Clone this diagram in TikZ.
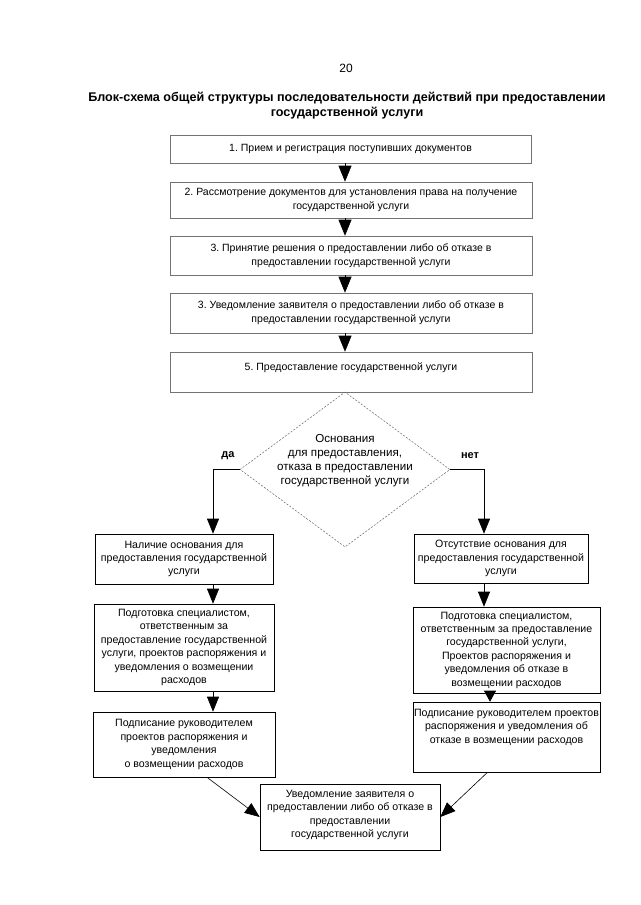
\documentclass[tikz,border=0pt]{standalone}
\usepackage{fontspec}
\setmainfont{Liberation Sans}
\usetikzlibrary{shapes.geometric,arrows.meta,calc}
\frenchspacing
\begin{document}
\begin{tikzpicture}[x=1pt,y=-1pt,
  font=\fontsize{10.5}{14}\selectfont,
  topbox/.style={draw=black!55, line width=0.6pt, align=center, inner sep=1pt},
  lowbox/.style={draw=black, line width=0.6pt, align=center, inner sep=0.5pt, font=\fontsize{10.6}{13.4}\selectfont},
  arr/.style={-{Triangle[length=15pt,width=12pt]}, line width=0.6pt},
  shortarr/.style={-{Triangle[length=11pt,width=12pt]}, line width=0.6pt},
  bigarr/.style={-{Triangle[length=16pt,width=13pt]}, line width=0.6pt},
  lbl/.style={font=\fontsize{11}{12}\selectfont\bfseries},
]
\path[use as bounding box, fill=white] (0,0) rectangle (640,905);

\node (pg) at (346,68) {\fontsize{12}{14}\selectfont 20};
\node[align=center, font=\fontsize{12.6}{15}\selectfont\bfseries] (title) at (347,106)
  {Блок-схема общей структуры последовательности действий при предоставлении\\государственной услуги};

\node[topbox, minimum width=361, minimum height=28] (b1) at (350.5,149)
  {1. Прием и регистрация поступивших документов};
\node[topbox, minimum width=362, minimum height=36] (b2) at (351,200)
  {2. Рассмотрение документов для установления права на получение\\государственной услуги};
\node[topbox, minimum width=362, minimum height=39] (b3) at (351,255.5)
  {3. Принятие решения о предоставлении либо об отказе в\\предоставлении государственной услуги};
\node[topbox, minimum width=362, minimum height=40] (b4) at (351,313)
  {3. Уведомление заявителя о предоставлении либо об отказе в\\предоставлении государственной услуги};
\node[topbox, minimum width=362, minimum height=40, text depth=10pt] (b5) at (351,372)
  {5. Предоставление государственной услуги};

\node[draw=black!60, dashed, dash pattern=on 2pt off 1.5pt, line width=0.5pt, shape=diamond,
  inner sep=0pt, minimum width=210, minimum height=155] (dia) at (345,469.5) {};
\node[align=center, font=\fontsize{11.6}{14}\selectfont] (diatext) at (345,461)
  {Основания\\для предоставления,\\отказа в предоставлении\\государственной услуги};

\node[lbl] (yes) at (228,456) {да};
\node[lbl] (no) at (470,456) {нет};

\node[lowbox, minimum width=178, minimum height=50] (a1) at (184,559)
  {Наличие основания для\\предоставления государственной\\услуги};
\node[lowbox, minimum width=180, minimum height=87] (a2) at (184,647.5)
  {Подготовка специалистом,\\ответственным за\\предоставление государственной\\услуги, проектов распоряжения и\\уведомления о возмещении\\расходов};
\node[lowbox, minimum width=182, minimum height=65] (a3) at (184,744.5)
  {Подписание руководителем\\проектов распоряжения и\\уведомления\\о возмещении расходов};

\node[lowbox, minimum width=174, minimum height=49] (c1) at (501,558.5)
  {Отсутствие основания для\\предоставления государственной\\услуги};
\node[lowbox, minimum width=187, minimum height=86] (c2) at (506.5,650)
  {Подготовка специалистом,\\ответственным за предоставление\\государственной услуги,\\Проектов распоряжения и\\уведомления об отказе в\\возмещении расходов};
\node[lowbox, minimum width=187, minimum height=70, text depth=22pt] (c3) at (506.5,737)
  {Подписание руководителем проектов\\распоряжения и уведомления об\\отказе в возмещении расходов};

\node[lowbox, minimum width=180, minimum height=66, text depth=6pt] (fin) at (350,817)
  {Уведомление заявителя о\\предоставлении либо об отказе в\\предоставлении\\государственной услуги};

\coordinate (lc) at (213,469.5);
\coordinate (rc) at (484,469.5);
\coordinate (rc2) at (490,469.5);

\draw[bigarr] (b1.south -| dia.north) -- (b2.north -| dia.north);
\draw[bigarr] (b2.south -| dia.north) -- (b3.north -| dia.north);
\draw[bigarr] (b3.south -| dia.north) -- (b4.north -| dia.north);
\draw[bigarr] (b4.south -| dia.north) -- (b5.north -| dia.north);

\draw[arr] (dia.west) -- (lc) -- (lc |- a1.north);
\draw[arr] (dia.east) -- (rc) -- (rc |- c1.north);

\draw[arr] (lc |- a1.south) -- (lc |- a2.north);
\draw[arr] (lc |- a2.south) -- (lc |- a3.north);
\draw[arr] (rc |- c1.south) -- (rc |- c2.north);
\draw[shortarr] (rc2 |- c2.south) -- (rc2 |- c3.north);

\draw[arr] ([xshift=23pt]a3.south) -- (fin.west);
\draw[arr] ([xshift=-19pt]c3.south) -- (fin.east);
\end{tikzpicture}
\end{document}
